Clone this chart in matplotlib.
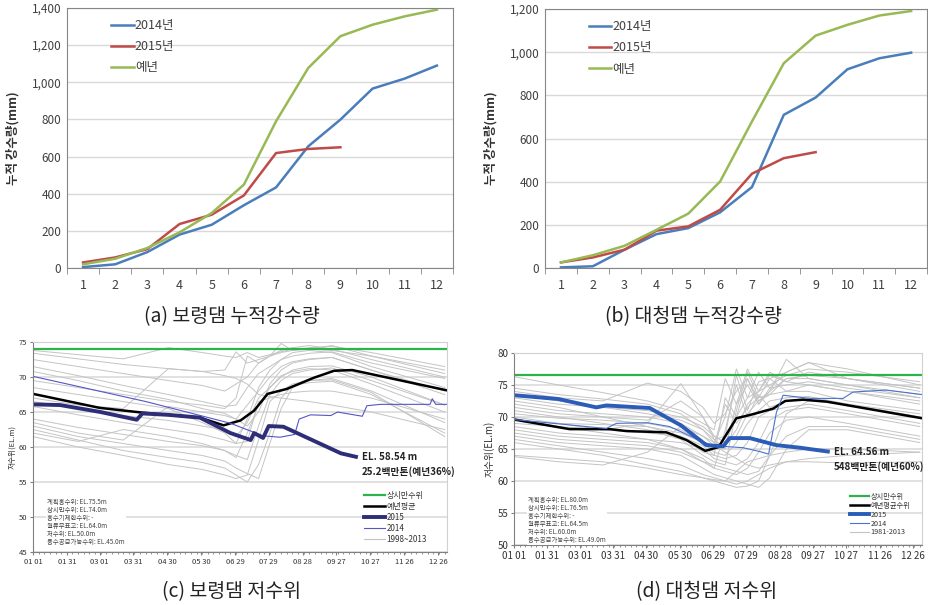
import numpy as np
import matplotlib
matplotlib.use('Agg')
import matplotlib.pyplot as plt
from matplotlib.lines import Line2D
from matplotlib.ticker import FuncFormatter

plt.rcParams['font.family'] = ['Noto Sans CJK KR', 'DejaVu Sans']

months = list(range(1, 13))

# (a) 보령댐 누적강수량 (mm)
boryeong_2014 = [5, 20, 86, 180, 233, 338, 434, 655, 799, 966, 1020, 1090]
boryeong_2015 = [30, 57, 102, 237, 287, 391, 619, 641, 650]
boryeong_normal = [20, 50, 108, 192, 296, 449, 790, 1077, 1248, 1310, 1355, 1391]

# (b) 대청댐 누적강수량 (mm)
daecheong_2014 = [3, 8, 85, 157, 185, 258, 375, 710, 790, 921, 972, 998]
daecheong_2015 = [26, 49, 85, 173, 193, 270, 437, 509, 537]
daecheong_normal = [26, 59, 103, 177, 252, 401, 679, 949, 1077, 1127, 1170, 1191]

rain_labels = ['2014년', '2015년', '예년']
rain_colors = ['#4a7ebb', '#be4b48', '#98b954']

# water level charts, x = day of year
day_ticks = [0, 30, 59, 89, 119, 149, 179, 209, 239, 269, 299, 329, 359]
day_labels = ['01 01', '01 31', '03 01', '03 31', '04 30', '05 30', '06 29',
              '07 29', '08 28', '09 27', '10 27', '11 26', '12 26']

# days shared by the past-year (gray) series
past_days = [0, 40, 80, 120, 150, 170, 180, 190, 200, 210, 220, 230, 245, 265, 300, 365]

# (c) 보령댐 저수위
boryeong_past = [
    [73.8, 73.2, 72.6, 74.2, 73.5, 73.0, 72.8, 73.5, 72.8, 73.2, 73.6, 74.0, 74.0, 73.8, 73.0, 71.0],
    [73.4, 72.6, 71.8, 71.2, 70.8, 71.0, 73.6, 72.0, 72.5, 73.0, 74.8, 73.8, 74.2, 74.4, 73.5, 71.5],
    [72.5, 71.5, 70.5, 69.5, 68.8, 68.0, 69.0, 70.0, 72.0, 73.0, 73.5, 73.8, 74.0, 74.5, 73.0, 70.5],
    [71.5, 70.2, 68.8, 67.5, 66.5, 65.8, 66.0, 68.5, 70.5, 71.5, 72.5, 73.0, 73.4, 73.6, 72.0, 69.8],
    [70.8, 69.5, 68.0, 66.8, 65.5, 64.8, 64.0, 66.0, 68.0, 70.0, 71.5, 72.2, 72.6, 72.8, 71.0, 67.5],
    [67.0, 66.0, 65.5, 71.2, 70.8, 70.2, 69.8, 69.0, 67.5, 67.2, 67.0, 66.8, 66.5, 66.0, 65.0, 62.5],
    [66.5, 65.5, 64.5, 63.8, 63.0, 62.5, 61.5, 63.5, 67.0, 68.5, 70.0, 71.0, 71.5, 71.6, 70.0, 66.0],
    [65.8, 64.6, 63.5, 62.5, 61.8, 61.0, 60.5, 60.8, 66.5, 67.0, 67.5, 67.8, 68.0, 68.0, 67.0, 64.0],
    [64.0, 62.8, 61.8, 60.8, 60.2, 59.5, 58.8, 58.2, 63.0, 67.5, 69.5, 70.5, 71.0, 71.3, 69.5, 66.0],
    [63.5, 62.0, 61.0, 65.8, 65.0, 64.5, 64.0, 63.0, 65.0, 69.0, 71.0, 72.0, 72.5, 72.8, 71.0, 68.0],
    [63.0, 61.5, 60.5, 59.5, 58.8, 58.0, 57.0, 56.2, 55.5, 60.5, 65.5, 68.5, 69.5, 69.8, 68.0, 63.5],
    [62.5, 61.0, 59.5, 58.5, 57.8, 57.0, 56.0, 55.0, 57.5, 62.0, 67.0, 68.8, 69.2, 69.4, 67.5, 62.0],
    [62.0, 60.8, 62.5, 61.5, 60.5, 59.5, 58.5, 62.0, 66.0, 68.5, 70.2, 70.8, 71.2, 71.0, 69.0, 65.0],
    [61.5, 60.0, 58.8, 57.5, 56.8, 56.0, 55.5, 56.0, 61.0, 66.5, 68.0, 69.0, 69.5, 69.6, 67.8, 61.5],
    [68.5, 67.5, 66.5, 65.5, 63.5, 62.0, 60.5, 64.0, 68.5, 71.0, 72.5, 73.5, 73.8, 73.5, 71.5, 68.5],
    [69.5, 68.5, 67.5, 66.5, 66.0, 65.5, 67.0, 73.0, 72.0, 73.0, 73.8, 74.2, 74.5, 74.0, 72.5, 70.0],
]
boryeong_mean_days = [0, 59, 98, 148, 169, 184, 196, 208, 225, 249, 267, 283, 367]
boryeong_mean = [67.6, 65.6, 64.9, 64.2, 63.1, 63.8, 65.2, 67.6, 68.3, 69.9, 70.9, 71.0, 68.1]
boryeong_2015_days = [0, 24, 60, 92, 97, 120, 148, 175, 193, 196, 204, 209, 222, 273, 288]
boryeong_2015_level = [66.1, 66.0, 65.0, 63.9, 64.8, 64.6, 64.2, 62.0, 61.0, 62.0, 61.3, 63.0, 62.9, 59.1, 58.54]
boryeong_2014_days = [0, 100, 175, 204, 219, 232, 236, 246, 264, 270, 292, 296, 308, 352, 354, 357, 367]
boryeong_2014_level = [70.1, 66.5, 63.4, 61.6, 61.4, 61.8, 64.0, 64.6, 64.5, 65.0, 64.4, 65.9, 66.1, 66.1, 66.9, 66.1, 66.1]
boryeong_info = ['계획홍수위: EL.75.5m', '상시만수위: EL.74.0m', '홍수기제한수위: -',
                 '월류부표고: EL.64.0m', '저수위: EL.50.0m', '용수공급가능수위: EL.45.0m']

# (d) 대청댐 저수위
daecheong_past = [
    [76.3, 75.0, 73.8, 72.5, 71.0, 69.0, 68.0, 76.0, 72.0, 77.5, 74.0, 75.0, 76.5, 77.5, 77.0, 75.5],
    [74.5, 73.5, 72.8, 72.0, 70.5, 68.0, 66.5, 67.0, 76.5, 71.0, 75.5, 76.0, 77.0, 78.5, 77.5, 75.0],
    [74.0, 73.0, 72.5, 75.3, 74.0, 71.5, 69.0, 70.5, 74.0, 76.0, 72.5, 73.5, 76.0, 76.5, 76.0, 74.0],
    [73.0, 72.0, 71.5, 71.0, 70.0, 68.5, 67.0, 66.0, 70.0, 73.0, 77.0, 74.5, 75.0, 75.5, 74.5, 73.0],
    [72.0, 71.0, 70.5, 70.0, 69.0, 67.0, 66.0, 65.5, 68.0, 72.0, 74.0, 76.5, 75.5, 75.0, 74.0, 72.0],
    [71.5, 70.5, 70.0, 69.5, 72.5, 70.0, 67.0, 66.0, 67.0, 70.5, 72.5, 74.0, 79.0, 76.0, 75.0, 73.0],
    [70.5, 69.8, 69.5, 69.0, 68.0, 66.0, 65.5, 72.0, 69.0, 71.5, 73.0, 73.5, 74.0, 74.0, 72.5, 71.0],
    [70.0, 69.0, 68.8, 68.5, 67.5, 66.0, 64.5, 64.0, 66.0, 69.0, 71.0, 72.5, 73.0, 73.2, 72.0, 70.0],
    [69.0, 68.5, 68.0, 67.5, 67.0, 65.5, 64.0, 63.5, 64.0, 66.0, 70.0, 71.0, 71.5, 72.0, 71.0, 69.0],
    [68.5, 67.5, 67.0, 66.5, 66.0, 65.0, 63.5, 63.0, 62.5, 63.5, 66.0, 69.5, 71.0, 71.5, 70.5, 68.5],
    [68.0, 67.0, 66.5, 66.0, 65.0, 63.5, 62.0, 61.5, 61.0, 62.0, 64.5, 67.5, 69.5, 70.0, 69.0, 67.0],
    [67.5, 66.5, 66.0, 65.5, 64.5, 63.0, 62.5, 62.0, 61.5, 61.0, 61.5, 64.0, 67.0, 68.5, 68.5, 66.5],
    [67.0, 66.0, 65.5, 65.0, 64.0, 62.0, 61.0, 60.5, 60.0, 59.5, 59.0, 60.5, 65.0, 68.0, 68.0, 66.0],
    [66.5, 65.5, 64.5, 63.5, 62.5, 61.0, 60.5, 60.0, 59.5, 60.0, 61.0, 62.0, 63.0, 63.5, 64.0, 64.5],
    [64.0, 63.5, 63.0, 62.0, 61.0, 60.5, 60.2, 60.0, 61.5, 63.0, 63.5, 64.0, 64.5, 65.0, 65.0, 64.5],
    [63.8, 63.0, 62.5, 64.5, 68.5, 67.0, 65.5, 64.5, 63.5, 62.5, 62.0, 62.5, 63.0, 63.0, 62.8, 63.0],
    [69.5, 69.0, 68.0, 69.0, 75.2, 70.0, 66.5, 65.0, 72.0, 75.0, 72.0, 74.0, 76.0, 76.0, 75.0, 73.5],
    [72.5, 71.5, 70.0, 68.5, 67.0, 64.5, 64.0, 73.0, 70.0, 76.0, 72.0, 74.5, 77.0, 78.5, 76.0, 74.5],
    [71.0, 70.0, 69.0, 68.0, 66.5, 64.0, 63.0, 62.5, 71.0, 77.0, 73.0, 76.0, 74.0, 75.0, 74.0, 72.5],
    [69.8, 68.5, 67.5, 66.5, 65.0, 63.0, 62.0, 68.0, 75.0, 70.0, 73.5, 71.5, 72.5, 73.0, 72.0, 70.5],
    [66.0, 65.0, 64.0, 62.5, 61.5, 60.5, 60.0, 59.5, 59.0, 59.2, 60.0, 64.0, 70.5, 72.5, 72.0, 70.0],
    [73.5, 72.5, 71.5, 70.5, 69.5, 68.0, 66.0, 70.0, 77.5, 73.0, 74.0, 77.0, 75.5, 77.0, 76.0, 74.5],
]
daecheong_mean_days = [0, 50, 86, 101, 137, 155, 172, 184, 200, 212, 233, 244, 260, 281, 367]
daecheong_mean = [69.6, 68.1, 68.1, 67.8, 67.6, 66.4, 64.7, 65.3, 69.8, 70.3, 71.3, 72.5, 72.7, 72.4, 69.8]
daecheong_2015_days = [0, 40, 74, 83, 122, 150, 173, 188, 194, 212, 236, 257, 284]
daecheong_2015_level = [73.4, 72.8, 71.5, 71.8, 71.4, 68.7, 65.6, 65.4, 66.7, 66.7, 65.6, 65.2, 64.56]
daecheong_2014_days = [0, 83, 92, 120, 140, 170, 180, 206, 221, 229, 236, 242, 266, 296, 305, 335, 367]
daecheong_2014_level = [69.6, 68.2, 69.0, 69.1, 68.5, 66.1, 65.5, 65.2, 64.6, 64.2, 70.7, 73.4, 72.9, 72.9, 73.9, 74.2, 73.5]
daecheong_info = ['계획홍수위: EL.80.0m', '상시만수위: EL.76.5m', '홍수기제한수위: -',
                  '월류부표고: EL.64.5m', '저수위: EL.60.0m', '용수공급가능수위: EL.49.0m']


def plot_rainfall(ax, y2014, y2015, ynormal, ymax):
    for vals, label, color in zip([y2014, y2015, ynormal], rain_labels, rain_colors):
        ax.plot(months[:len(vals)], vals, color=color, lw=1.8, label=label)
    ax.set_xlim(0.5, 12.5)
    ax.set_ylim(0, ymax)
    ax.set_yticks(range(0, ymax + 1, 200))
    ax.yaxis.set_major_formatter(FuncFormatter(lambda v, p: f'{int(v):,}'))
    ax.set_xticks(months)
    ax.set_xticks(np.arange(0.5, 13, 1), minor=True)
    ax.tick_params(axis='x', which='major', length=0, labelsize=9, colors='#404040', pad=8)
    ax.tick_params(axis='x', which='minor', length=4, color='#868686')
    ax.tick_params(axis='y', length=0, labelsize=8.5, colors='#404040', pad=4)
    ax.grid(axis='y', color='#d9d9d9', lw=1)
    ax.set_axisbelow(True)
    for s in ax.spines.values():
        s.set_color('#868686')
    ax.set_ylabel('누적 강수량(mm)', fontsize=9, fontweight='bold', color='#333333', labelpad=9)
    ax.legend(loc='upper left', bbox_to_anchor=(0.085, 1.0), frameon=False, fontsize=9,
              handlelength=1.8, handletextpad=0.1, labelspacing=0.65, labelcolor='#404040')


def plot_level(ax, past, mean_d, mean_v, d15, v15, d14, v14, full, ylim, info,
               note1, note2, c15, c14, labels, fs, leg_fs, leg_sp, leg_pos):
    for vals in past:
        ax.plot(past_days, vals, color='#c4c4c4', lw=0.7)
    ax.axhline(full, color='#2db34a', lw=1.6)
    ax.plot(mean_d, mean_v, color='black', lw=1.8)
    ax.plot(d14, v14, color=c14, lw=0.8)
    ax.plot(d15, v15, color=c15, lw=2.8, solid_capstyle='butt')
    ax.set_xlim(0, 367)
    ax.set_ylim(*ylim)
    ax.set_yticks(range(ylim[0], ylim[1] + 1, 5))
    ax.set_xticks(day_ticks)
    ax.set_xticklabels(day_labels)
    ax.set_xticks(range(0, 366, 5), minor=True)
    ax.tick_params(axis='both', which='major', labelsize=fs, colors='#333333', length=2, color='#808080', pad=2)
    ax.tick_params(axis='x', which='minor', length=1.5, color='#808080')
    ax.grid(axis='y', color='#dcdcdc', lw=1.2)
    ax.set_axisbelow(True)
    ax.spines['left'].set_color('#808080')
    ax.spines['bottom'].set_color('#808080')
    ax.spines['top'].set_color('#d0d0d0')
    ax.spines['right'].set_color('#d0d0d0')
    ax.set_ylabel('저수위(EL.m)', fontsize=fs, color='#333333', labelpad=2)

    ax.annotate(note1, xy=(d15[-1], v15[-1]), xytext=(3, 0), textcoords='offset points',
                va='center', fontsize=7, fontweight='bold', color='#222222')
    ax.annotate(note2, xy=(d15[-1], v15[-1]), xytext=(3, -10.5), textcoords='offset points',
                va='center', fontsize=7, fontweight='bold', color='#222222')

    ax.text(0.035, 0.255, '\n'.join(info), transform=ax.transAxes, va='top', ha='left',
            fontsize=4.6, linespacing=1.0, color='#444444',
            bbox=dict(facecolor='white', edgecolor='none', pad=1))

    handles = [Line2D([], [], color='#2db34a', lw=1.6),
               Line2D([], [], color='black', lw=1.8),
               Line2D([], [], color=c15, lw=2.8),
               Line2D([], [], color=c14, lw=0.8),
               Line2D([], [], color='#c4c4c4', lw=0.8)]
    ax.legend(handles, labels, loc='upper left', bbox_to_anchor=leg_pos, frameon=False,
              fontsize=leg_fs, handlelength=2.6, handletextpad=0.2, labelspacing=leg_sp,
              borderpad=0, labelcolor='#333333')


def main():
    fig = plt.figure(figsize=(9.29, 6.05), dpi=100)

    ax_a = fig.add_axes([0.0721, 0.557, 0.4155, 0.4298])
    plot_rainfall(ax_a, boryeong_2014, boryeong_2015, boryeong_normal, 1400)
    ax_b = fig.add_axes([0.5867, 0.557, 0.4112, 0.428])
    plot_rainfall(ax_b, daecheong_2014, daecheong_2015, daecheong_normal, 1200)

    ax_c = fig.add_axes([0.0355, 0.0876, 0.4456, 0.347])
    plot_level(ax_c, boryeong_past, boryeong_mean_days, boryeong_mean,
               boryeong_2015_days, boryeong_2015_level, boryeong_2014_days, boryeong_2014_level,
               74.0, (45, 75), boryeong_info, 'EL. 58.54 m', '25.2백만톤(예년36%)',
               '#2e2e78', '#5555c8', ['상시만수위', '예년평균', '2015', '2014', '1998~2013'],
               5.5, 5.8, 0.25, (0.79, 0.31))
    ax_d = fig.add_axes([0.5533, 0.0992, 0.4392, 0.3174])
    plot_level(ax_d, daecheong_past, daecheong_mean_days, daecheong_mean,
               daecheong_2015_days, daecheong_2015_level, daecheong_2014_days, daecheong_2014_level,
               76.5, (50, 80), daecheong_info, 'EL. 64.56 m', '548백만톤(예년60%)',
               '#2a5cb8', '#4a72d0', ['상시만수위', '예년평균수위', '2015', '2014', '1981-2013'],
               7, 5.2, 0.12, (0.815, 0.29))

    cap = dict(ha='center', va='center', fontsize=14, color='#222222')
    fig.text(0.250, 0.476, '(a) 보령댐 누적강수량', **cap)
    fig.text(0.746, 0.476, '(b) 대청댐 누적강수량', **cap)
    fig.text(0.249, 0.0215, '(c) 보령댐 저수위', **cap)
    fig.text(0.761, 0.0215, '(d) 대청댐 저수위', **cap)

    fig.savefig('out.png', dpi=100)


if __name__ == '__main__':
    main()
